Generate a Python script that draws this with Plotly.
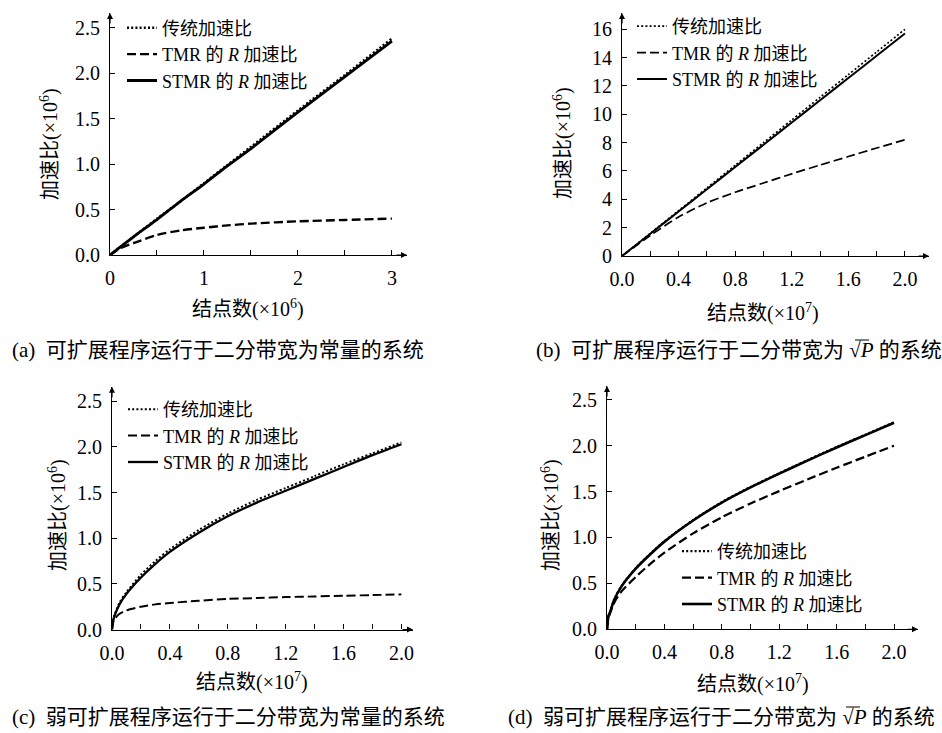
import plotly.graph_objects as go

W, H = 942, 733

# ---------------- data ----------------
a_x = [0, 0.1, 0.25, 0.5, 0.75, 1.0, 1.25, 1.5, 2.0, 2.5, 3.0]
a_trad = [0, 0.08, 0.20, 0.40, 0.59, 0.79, 0.99, 1.19, 1.59, 1.98, 2.38]
a_tmr = [0, 0.07, 0.13, 0.22, 0.27, 0.30, 0.325, 0.345, 0.37, 0.385, 0.40]
a_stmr = [0, 0.08, 0.20, 0.39, 0.59, 0.78, 0.98, 1.17, 1.57, 1.96, 2.35]

b_x = [0, 0.2, 0.4, 0.6, 0.8, 1.0, 1.2, 1.4, 1.6, 1.8, 2.0]
b_trad = [0, 1.6, 3.2, 4.8, 6.4, 8.0, 9.6, 11.2, 12.8, 14.4, 16.0]
b_tmr = [0, 1.45, 2.75, 3.75, 4.5, 5.15, 5.8, 6.42, 7.02, 7.62, 8.2]
b_stmr = [0, 1.57, 3.14, 4.71, 6.28, 7.85, 9.42, 10.99, 12.56, 14.13, 15.7]

c_x = [0, 0.01, 0.02, 0.05, 0.1, 0.2, 0.3, 0.4, 0.6, 0.8, 1.0, 1.2, 1.4, 1.6, 1.8, 2.0]
c_trad = [0, 0.12, 0.17, 0.29, 0.41, 0.60, 0.75, 0.88, 1.09, 1.27, 1.42, 1.55, 1.68, 1.81, 1.93, 2.05]
c_tmr = [0, 0.09, 0.12, 0.17, 0.21, 0.25, 0.275, 0.29, 0.315, 0.335, 0.345, 0.355, 0.362, 0.37, 0.377, 0.385]
c_stmr = [0, 0.11, 0.16, 0.27, 0.39, 0.57, 0.72, 0.85, 1.06, 1.24, 1.39, 1.52, 1.65, 1.78, 1.91, 2.03]

d_x = [0, 0.01, 0.02, 0.05, 0.1, 0.2, 0.3, 0.4, 0.6, 0.8, 1.0, 1.2, 1.4, 1.6, 1.8, 2.0]
d_trad = [0, 0.145, 0.185, 0.325, 0.47, 0.665, 0.82, 0.96, 1.19, 1.385, 1.55, 1.70, 1.845, 1.985, 2.12, 2.255]
d_tmr = [0, 0.13, 0.17, 0.29, 0.41, 0.57, 0.71, 0.835, 1.045, 1.22, 1.37, 1.505, 1.635, 1.76, 1.88, 2.00]
d_stmr = [0, 0.14, 0.18, 0.32, 0.465, 0.66, 0.815, 0.955, 1.185, 1.38, 1.545, 1.695, 1.84, 1.98, 2.115, 2.25]

series_names = ["传统加速比", "TMR 的 <i>R</i> 加速比", "STMR 的 <i>R</i> 加速比"]
x_titles = ["结点数(×10<sup>6</sup>)", "结点数(×10<sup>7</sup>)", "结点数(×10<sup>7</sup>)", "结点数(×10<sup>7</sup>)"]
y_title = "加速比(×10<sup>6</sup>)"
captions = ["(a)  可扩展程序运行于二分带宽为常量的系统",
            "(b)  可扩展程序运行于二分带宽为 √<i>P</i> 的系统",
            "(c)  弱可扩展程序运行于二分带宽为常量的系统",
            "(d)  弱可扩展程序运行于二分带宽为 √<i>P</i> 的系统"]

FONT = "Liberation Serif, Noto Sans CJK SC, serif"


def fx(px):
    return px / W


def fy(py):
    return 1 - py / H


panels = [
    dict(x=a_x, ys=[a_trad, a_tmr, a_stmr], xdom=(110, 407), ydom=(255, 13),
         xr=[0, 3.16], yr=[0, 2.66], xt=[0, 1, 2, 3], xtt=["0", "1", "2", "3"], xminor=0.5,
         yt=[0, 0.5, 1, 1.5, 2, 2.5], ytf=".1f", lw=2.8),
    dict(x=b_x, ys=[b_trad, b_tmr, b_stmr], xdom=(622, 929), ydom=(256, 13),
         xr=[0, 2.17], yr=[0, 17.15], xt=[0, 0.4, 0.8, 1.2, 1.6, 2.0], xtt=None, xminor=0.2,
         yt=[0, 2, 4, 6, 8, 10, 12, 14, 16], ytf="d", lw=2.0),
    dict(x=c_x, ys=[c_trad, c_tmr, c_stmr], xdom=(112, 413), ydom=(629.5, 386.7),
         xr=[0, 2.08], yr=[0, 2.66], xt=[0, 0.4, 0.8, 1.2, 1.6, 2.0], xtt=None, xminor=0.2,
         yt=[0, 0.5, 1, 1.5, 2, 2.5], ytf=".1f", lw=2.3),
    dict(x=d_x, ys=[d_trad, d_tmr, d_stmr], xdom=(607, 918), ydom=(629.3, 386),
         xr=[0, 2.167], yr=[0, 2.65], xt=[0, 0.4, 0.8, 1.2, 1.6, 2.0], xtt=None, xminor=0.2,
         yt=[0, 0.5, 1, 1.5, 2, 2.5], ytf=".1f", lw=2.6),
]

legend_pos = [(122, 9.5), (632, 8), (123, 391), (677, 533)]
xtitle_pos = [(248, 308), (763, 312), (252, 681), (753, 683)]
ytitle_pos = [(50, 144), (562, 143), (57, 515), (550, 515)]
caption_pos = [(10, 350), (534, 350), (10, 717), (506, 717)]
sqrt_bars = [None, (855, 869, 340), None, (846, 860, 707)]

dash_styles = ["2px,2.2px", "9px,4px", "solid"]

fig = go.Figure()
layout = dict(width=W, height=H, margin=dict(l=0, r=0, t=0, b=0, autoexpand=False),
              paper_bgcolor="white", plot_bgcolor="rgba(0,0,0,0)",
              font=dict(family=FONT, size=19, color="black"), showlegend=True)
annotations = []
shapes = []

for i, p in enumerate(panels):
    k = "" if i == 0 else str(i + 1)
    leg = "legend" if i == 0 else "legend" + str(i + 1)
    for j, (ys, nm) in enumerate(zip(p["ys"], series_names)):
        w = p["lw"] if j == 2 else p["lw"] * 0.85
        fig.add_trace(go.Scatter(x=p["x"], y=ys, mode="lines", name=nm,
                                 line=dict(color="black", width=w, dash=dash_styles[j],
                                           shape="spline", smoothing=0.7),
                                 xaxis="x" + k, yaxis="y" + k, legend=leg, showlegend=True,
                                 hoverinfo="skip"))
    xa = dict(domain=[fx(p["xdom"][0]), fx(p["xdom"][1])], range=p["xr"], anchor="y" + k,
              showline=True, linecolor="black", linewidth=1.2, showgrid=False, zeroline=False,
              ticks="inside", ticklen=5, tickwidth=1, tickcolor="black", tickvals=p["xt"],
              tickfont=dict(family=FONT, size=20), ticklabelstandoff=5, automargin=False,
              minor=dict(dtick=p["xminor"], tick0=0, ticks="inside", ticklen=5, tickcolor="black", tickwidth=1),
              fixedrange=True)
    if p["xtt"] is not None:
        xa["ticktext"] = p["xtt"]
    else:
        xa["tickformat"] = ".1f"
    ya = dict(domain=[fy(p["ydom"][0]), fy(p["ydom"][1])], range=p["yr"], anchor="x" + k,
              showline=True, linecolor="black", linewidth=1.2, showgrid=False, zeroline=False,
              ticks="inside", ticklen=5, tickwidth=1, tickcolor="black", tickvals=p["yt"],
              tickformat=p["ytf"], tickfont=dict(family=FONT, size=20), ticklabelstandoff=5,
              automargin=False, fixedrange=True)
    layout["xaxis" + k] = xa
    layout["yaxis" + k] = ya
    lx, ly = legend_pos[i]
    layout[leg] = dict(x=fx(lx), y=fy(ly), xanchor="left", yanchor="top",
                       bgcolor="rgba(0,0,0,0)", borderwidth=0, tracegroupgap=0,
                       font=dict(family=FONT, size=18), itemwidth=30)
    # axis arrows
    annotations.append(dict(xref="x" + k + " domain", yref="y" + k + " domain", x=1, y=0,
                            ax=-12, ay=0, axref="pixel", ayref="pixel", showarrow=True,
                            arrowhead=2, arrowsize=1, arrowwidth=1.2, arrowcolor="black", text=""))
    annotations.append(dict(xref="x" + k + " domain", yref="y" + k + " domain", x=0, y=1,
                            ax=0, ay=12, axref="pixel", ayref="pixel", showarrow=True,
                            arrowhead=2, arrowsize=1, arrowwidth=1.2, arrowcolor="black", text=""))
    tx, ty = xtitle_pos[i]
    annotations.append(dict(xref="paper", yref="paper", x=fx(tx), y=fy(ty), text=x_titles[i],
                            showarrow=False, xanchor="center", yanchor="middle",
                            font=dict(family=FONT, size=20)))
    tx, ty = ytitle_pos[i]
    annotations.append(dict(xref="paper", yref="paper", x=fx(tx), y=fy(ty), text=y_title,
                            showarrow=False, xanchor="center", yanchor="middle", textangle=-90,
                            font=dict(family=FONT, size=20)))
    cx, cy = caption_pos[i]
    annotations.append(dict(xref="paper", yref="paper", x=fx(cx), y=fy(cy), text=captions[i],
                            showarrow=False, xanchor="left", yanchor="middle",
                            font=dict(family=FONT, size=21)))
    if sqrt_bars[i] is not None:
        x0, x1, yb = sqrt_bars[i]
        shapes.append(dict(type="line", xref="paper", yref="paper", x0=fx(x0), x1=fx(x1),
                           y0=fy(yb), y1=fy(yb), line=dict(color="black", width=1)))

layout["annotations"] = annotations
layout["shapes"] = shapes
fig.update_layout(**layout)
fig.write_html("out.html", config={"displayModeBar": False},
               post_script="document.body.style.margin='0';document.body.style.overflow='hidden';")
